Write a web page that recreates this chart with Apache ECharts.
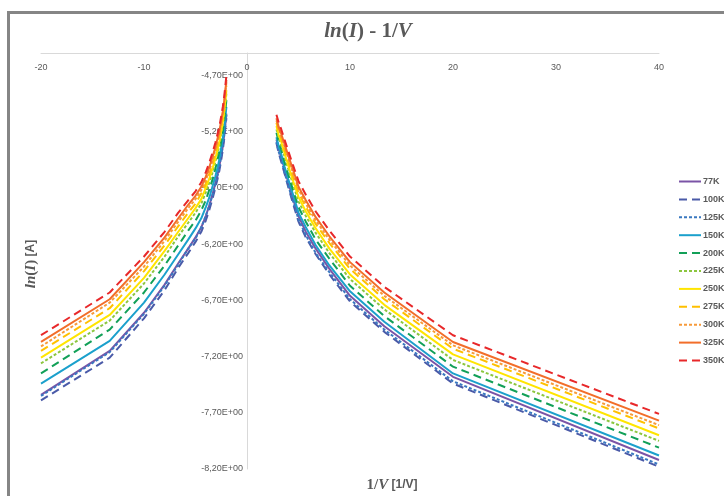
<!DOCTYPE html>
<html>
<head>
<meta charset="utf-8">
<script src="https://cdn.jsdelivr.net/npm/echarts@6/dist/echarts.min.js"></script>
<style>html,body{margin:0;padding:0;background:#fff}#c{width:724px;height:496px}</style>
</head>
<body>
<div id="c"></div>
<script>
const xLeft = [-20, -13.33, -10, -8, -6.67, -5.71, -5, -4.44, -4, -3.64, -3.33, -3.08, -2.86, -2.67, -2.5, -2.35, -2.22, -2.11, -2];
const xRight = [2.86, 3.08, 3.33, 3.64, 4, 4.44, 5, 5.71, 6.67, 8, 10, 13.33, 20, 40];
const seriesNames = ['77K','100K','125K','150K','200K','225K','250K','275K','300K','325K','350K'];

const left77  = [-7.54,-7.15,-6.81,-6.56,-6.37,-6.24,-6.14,-6.05,-5.95,-5.85,-5.75,-5.66,-5.58,-5.50,-5.41,-5.33,-5.23,-5.14,-5.04];
const left100 = [-7.59,-7.21,-6.86,-6.61,-6.41,-6.28,-6.18,-6.09,-5.99,-5.89,-5.79,-5.70,-5.62,-5.54,-5.45,-5.36,-5.27,-5.17,-5.08];
const left125 = [-7.55,-7.16,-6.82,-6.57,-6.38,-6.24,-6.15,-6.05,-5.95,-5.85,-5.76,-5.67,-5.59,-5.51,-5.41,-5.33,-5.24,-5.14,-5.05];
const left150 = [-7.44,-7.06,-6.72,-6.47,-6.29,-6.16,-6.06,-5.97,-5.87,-5.78,-5.68,-5.60,-5.52,-5.44,-5.34,-5.26,-5.17,-5.08,-4.98];
const left200 = [-7.35,-6.96,-6.63,-6.39,-6.21,-6.08,-5.99,-5.90,-5.81,-5.71,-5.62,-5.53,-5.45,-5.37,-5.28,-5.20,-5.11,-5.02,-4.92];
const left225 = [-7.26,-6.88,-6.55,-6.31,-6.13,-6.01,-5.92,-5.84,-5.74,-5.65,-5.56,-5.47,-5.39,-5.32,-5.22,-5.14,-5.05,-4.96,-4.86];
const left250 = [-7.21,-6.83,-6.50,-6.26,-6.09,-5.97,-5.88,-5.80,-5.70,-5.61,-5.52,-5.44,-5.36,-5.28,-5.19,-5.11,-5.02,-4.93,-4.83];
const left275 = [-7.15,-6.77,-6.44,-6.21,-6.04,-5.92,-5.84,-5.75,-5.66,-5.57,-5.48,-5.39,-5.32,-5.24,-5.15,-5.07,-4.98,-4.89,-4.79];
const left300 = [-7.11,-6.72,-6.40,-6.17,-6.00,-5.88,-5.80,-5.72,-5.63,-5.54,-5.45,-5.36,-5.29,-5.21,-5.12,-5.04,-4.95,-4.86,-4.76];
const left325 = [-7.07,-6.69,-6.36,-6.14,-5.97,-5.85,-5.77,-5.69,-5.60,-5.51,-5.42,-5.34,-5.26,-5.19,-5.10,-5.02,-4.93,-4.84,-4.74];
const left350 = [-7.01,-6.63,-6.31,-6.09,-5.92,-5.81,-5.73,-5.65,-5.56,-5.47,-5.38,-5.30,-5.22,-5.15,-5.06,-4.98,-4.89,-4.80,-4.70];

const right77  = [-5.27,-5.35,-5.43,-5.53,-5.65,-5.79,-5.95,-6.09,-6.24,-6.42,-6.66,-6.93,-7.38,-8.12];
const right100 = [-5.30,-5.39,-5.47,-5.57,-5.69,-5.83,-6.00,-6.14,-6.29,-6.47,-6.71,-6.98,-7.44,-8.18];
const right125 = [-5.29,-5.38,-5.45,-5.56,-5.68,-5.81,-5.98,-6.12,-6.28,-6.45,-6.69,-6.96,-7.42,-8.16];
const right150 = [-5.25,-5.33,-5.40,-5.51,-5.62,-5.75,-5.92,-6.05,-6.21,-6.39,-6.62,-6.89,-7.35,-8.08];
const right200 = [-5.21,-5.29,-5.36,-5.47,-5.58,-5.71,-5.87,-6.00,-6.16,-6.33,-6.57,-6.84,-7.29,-8.01];
const right225 = [-5.18,-5.25,-5.32,-5.42,-5.53,-5.66,-5.82,-5.95,-6.10,-6.28,-6.51,-6.78,-7.23,-7.95];
const right250 = [-5.15,-5.23,-5.29,-5.39,-5.50,-5.63,-5.78,-5.91,-6.06,-6.24,-6.47,-6.74,-7.18,-7.90];
const right275 = [-5.12,-5.20,-5.26,-5.36,-5.46,-5.59,-5.74,-5.87,-6.02,-6.19,-6.42,-6.69,-7.13,-7.84];
const right300 = [-5.10,-5.17,-5.24,-5.33,-5.43,-5.56,-5.71,-5.84,-5.99,-6.16,-6.39,-6.66,-7.10,-7.81];
const right325 = [-5.08,-5.16,-5.22,-5.31,-5.41,-5.53,-5.69,-5.81,-5.96,-6.13,-6.36,-6.63,-7.07,-7.77];
const right350 = [-5.05,-5.12,-5.18,-5.27,-5.37,-5.49,-5.64,-5.76,-5.91,-6.08,-6.31,-6.58,-7.01,-7.71];

const leftData  = [left77,left100,left125,left150,left200,left225,left250,left275,left300,left325,left350];
const rightData = [right77,right100,right125,right150,right200,right225,right250,right275,right300,right325,right350];

const colors = ['#7B54A6','#4A5AA8','#3A78C0','#1BA0CC','#12A058','#8CC63F','#FFE500','#FFC000','#F79A3A','#F26E2A','#E8282A'];
const LONG = [8,5], SHORT = [3,2];
const dashes = ['solid', LONG, SHORT, 'solid', LONG, SHORT, 'solid', LONG, SHORT, 'solid', LONG];

const series = [];
seriesNames.forEach((n, i) => {
  const style = {color: colors[i], width: 2, type: dashes[i]};
  [[xLeft, leftData[i]], [xRight, rightData[i]]].forEach(([xs, ys]) => {
    series.push({
      name: n, type: 'line', showSymbol: false, symbol: 'none',
      itemStyle: {color: colors[i]},
      lineStyle: style,
      data: xs.map((x, k) => [x, ys[k]]),
      animation: false
    });
  });
});

const chart = echarts.init(document.getElementById('c'), null, {renderer: 'canvas'});
const labelColor = '#595959';
chart.setOption({
  animation: false,
  grid: {left: 41, right: 65, top: 53, bottom: 27, containLabel: false, outerBoundsMode: 'none'},
  legend: {
    orient: 'vertical', left: 678, top: 177, padding: 0,
    itemWidth: 22, itemHeight: 10, itemGap: 8.9,
    data: seriesNames,
    itemStyle: {opacity: 0},
    textStyle: {fontSize: 9, fontWeight: 'bold', color: labelColor, fontFamily: 'Liberation Sans', padding: [0,0,0,-3]},
    selectedMode: false
  },
  xAxis: {
    type: 'value', min: -20, max: 40, interval: 10, position: 'top',
    axisLine: {onZero: false, lineStyle: {color: '#d9d9d9', width: 1}},
    axisTick: {show: false},
    splitLine: {show: false},
    axisLabel: {inside: true, margin: 10, fontSize: 9, color: labelColor, fontFamily: 'Liberation Sans'}
  },
  yAxis: {
    type: 'value', min: -8.2, max: -4.5, interval: 0.5, position: 'left', offset: -206,
    axisLine: {show: true, onZero: false, lineStyle: {color: '#d9d9d9', width: 1}},
    axisTick: {show: false},
    splitLine: {show: false},
    axisLabel: {
      showMaxLabel: false, margin: 4, fontSize: 9, color: labelColor, fontFamily: 'Liberation Sans',
      formatter: v => v.toFixed(2).replace('.', ',') + 'E+00'
    }
  },
  graphic: [
    {type: 'rect', shape: {x: 8.5, y: 12.5, width: 800, height: 600}, style: {fill: 'none', stroke: '#858585', lineWidth: 3}, silent: true},
    {type: 'text', x: 368, y: 32, style: {
      text: '{i|ln}{r|(}{i|I}{r|) - 1/}{i|V}', align: 'center', verticalAlign: 'middle',
      rich: {
        i: {fontFamily: 'Liberation Serif', fontStyle: 'italic', fontWeight: 'bold', fontSize: 21, fill: labelColor},
        r: {fontFamily: 'Liberation Serif', fontWeight: 'bold', fontSize: 21, fill: labelColor}
      }}},
    {type: 'text', x: 31, y: 264, rotation: Math.PI / 2, style: {
      text: '{i|ln}{r|(}{i|I}{r|)} {s|[A]}', align: 'center', verticalAlign: 'middle',
      rich: {
        i: {fontFamily: 'Liberation Serif', fontStyle: 'italic', fontWeight: 'bold', fontSize: 15, fill: labelColor},
        r: {fontFamily: 'Liberation Serif', fontWeight: 'bold', fontSize: 15, fill: labelColor},
        s: {fontFamily: 'Liberation Sans', fontWeight: 'bold', fontSize: 12, fill: labelColor}
      }}},
    {type: 'text', x: 392, y: 485, style: {
      text: '{r|1/}{i|V} {s|[1/V]}', align: 'center', verticalAlign: 'middle',
      rich: {
        i: {fontFamily: 'Liberation Serif', fontStyle: 'italic', fontWeight: 'bold', fontSize: 15, fill: labelColor},
        r: {fontFamily: 'Liberation Serif', fontWeight: 'bold', fontSize: 15, fill: labelColor},
        s: {fontFamily: 'Liberation Sans', fontWeight: 'bold', fontSize: 12, fill: labelColor}
      }}}
  ],
  series: series
});
</script>
</body>
</html>
